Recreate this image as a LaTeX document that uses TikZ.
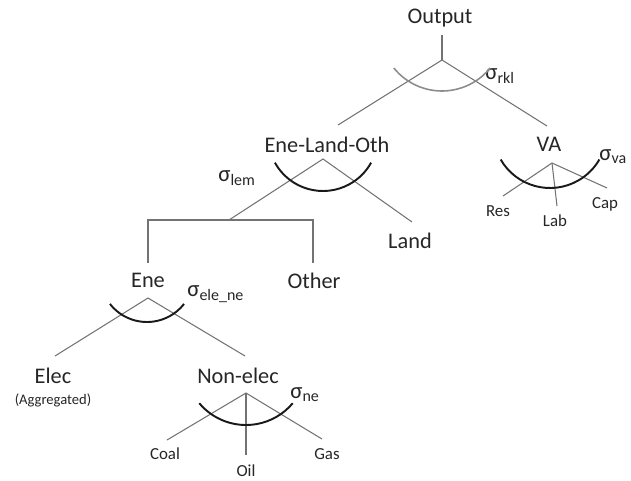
\documentclass[tikz,border=0pt]{standalone}
\usepackage{fontspec}
\setmainfont{Carlito}
\usetikzlibrary{positioning}

\begin{document}
\begin{tikzpicture}[
  lbl/.style={font=\fontsize{12.7}{15}\selectfont, text=black!85, inner sep=1pt},
  leaf/.style={font=\fontsize{9.6}{11}\selectfont, text=black!85, inner sep=1pt},
  sig/.style={font=\fontsize{13}{15}\selectfont, text=black!85, anchor=west, inner sep=0pt},
  branch/.style={draw=black!55, line width=0.6pt},
  nest/.style={draw=black!90, line width=1.1pt},
  nesttop/.style={draw=black!45, line width=0.9pt}
]
  \useasboundingbox (0,0) rectangle (12.62,9.6);

  % Nodes
  \node[lbl] (out) at (8.80,9.24) {Output};
  \node[lbl] (elo) at (6.54,6.70) {Ene-Land-Oth};
  \node[lbl] (va) at (10.98,6.72) {VA};
  \node[lbl] (land) at (8.20,4.78) {Land};
  \node[lbl] (ene) at (2.96,4.00) {Ene};
  \node[lbl] (oth) at (6.28,3.98) {Other};
  \node[lbl] (elec) at (1.06,2.08) {Elec};
  \node[leaf,font=\fontsize{8.3}{10}\selectfont] (agg) at (1.06,1.60) {(Aggregated)};
  \node[lbl] (nonel) at (4.76,2.08) {Non-elec};
  \node[leaf] (coal) at (3.30,0.52) {Coal};
  \node[leaf] (oil) at (4.92,0.18) {Oil};
  \node[leaf] (gas) at (6.54,0.52) {Gas};
  \node[leaf] (res) at (9.96,5.38) {Res};
  \node[leaf] (lab) at (11.10,5.18) {Lab};
  \node[leaf] (cap) at (12.10,5.52) {Cap};

  % Elasticities
  \node[sig] (srkl) at (9.70,8.08) {σ\textsubscript{rkl}};
  \node[sig] (slem) at (4.36,6.04) {σ\textsubscript{lem}};
  \node[sig] (sele) at (3.74,3.72) {σ\textsubscript{ele\_ne}};
  \node[sig] (sne) at (5.80,1.70) {σ\textsubscript{ne}};
  \node[sig] (sva) at (11.98,6.46) {σ\textsubscript{va}};

  % Branch points
  \coordinate (outtop) at (8.84,8.90);
  \coordinate (outap) at (8.84,8.40);
  \coordinate (outl) at (6.76,7.10);
  \coordinate (outr) at (10.94,7.08);
  \coordinate (eloap) at (6.46,6.42);
  \coordinate (elol) at (4.58,5.20);
  \coordinate (elor) at (8.24,5.16);
  \coordinate (barl) at (2.96,5.20);
  \coordinate (barr) at (6.26,5.20);
  \coordinate (enetop) at (2.96,4.34);
  \coordinate (othtop) at (6.26,4.34);
  \coordinate (eneap) at (2.96,3.64);
  \coordinate (enel) at (1.10,2.48);
  \coordinate (ener) at (4.90,2.48);
  \coordinate (nonap) at (4.92,1.74);
  \coordinate (nonl) at (3.34,0.80);
  \coordinate (nond) at (4.92,0.50);
  \coordinate (nonr) at (6.44,0.82);
  \coordinate (vaap) at (11.04,6.34);
  \coordinate (val) at (10.06,5.68);
  \coordinate (vad) at (11.14,5.48);
  \coordinate (var) at (12.14,5.84);

  % Branches
  \draw[branch] (outtop) -- (outap);
  \draw[branch] (outl) -- (outap) -- (outr);
  \draw[branch] (elol) -- (eloap) -- (elor);
  \draw[branch] (enetop) -- (barl) -- (barr) -- (othtop);
  \draw[branch] (enel) -- (eneap) -- (ener);
  \draw[branch] (nonl) -- (nonap) -- (nonr);
  \draw[branch] (nonap) -- (nond);
  \draw[branch] (val) -- (vaap) -- (var);
  \draw[branch] (vaap) -- (vad);

  % Nesting arcs
  \draw[nesttop] (8.84,9.02) ++(219:1.24) arc[start angle=219,end angle=321,radius=1.24];
  \draw[nest] (6.46,6.88) ++(209:1.10) arc[start angle=209,end angle=331,radius=1.10];
  \draw[nest] (2.94,4.10) ++(218:0.94) arc[start angle=218,end angle=322,radius=0.94];
  \draw[nest] (4.92,2.32) ++(220:1.22) arc[start angle=220,end angle=320,radius=1.22];
  \draw[nest] (11.00,6.98) ++(210:1.14) arc[start angle=210,end angle=330,radius=1.14];
\end{tikzpicture}
\end{document}
